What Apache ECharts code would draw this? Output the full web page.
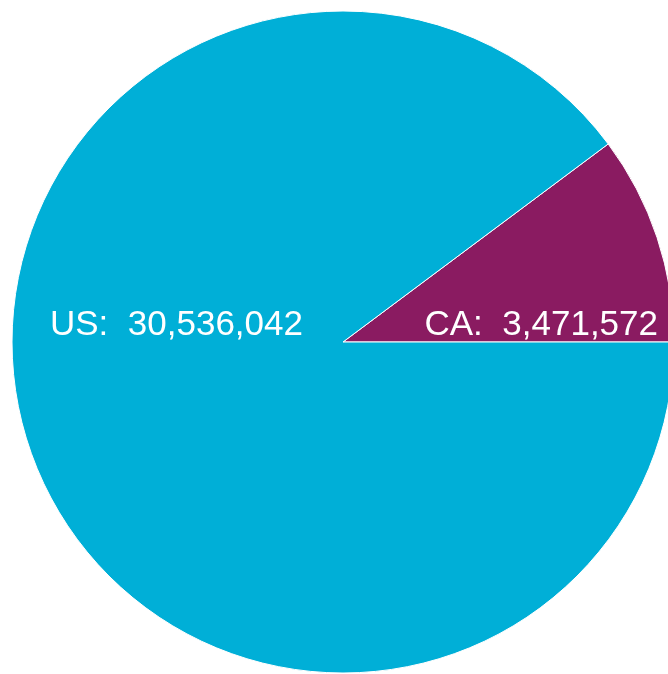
<!DOCTYPE html>
<html>
<head>
<meta charset="utf-8">
<script src="https://cdn.jsdelivr.net/npm/echarts@6/dist/echarts.min.js"></script>
<style>
  html, body { margin: 0; padding: 0; background: #fff; }
  #chart { width: 668px; height: 674px; }
</style>
</head>
<body>
<div id="chart"></div>
<script>
  var countries = ['CA', 'US'];
  var counts = [3471572, 30536042];
  var sliceColors = ['#8A1B61', '#00AFD7'];

  var total = counts[0] + counts[1];
  // CA slice sits just above the 3 o'clock line, US fills the rest
  var startAngle = counts[0] / total * 360;

  // label anchor points (text positions, not marks)
  var labelSpots = {
    CA: { x: 658, y: 325, align: 'right' },
    US: { x: 50, y: 325, align: 'left' }
  };

  function fmt(n) {
    return n.toString().replace(/\B(?=(\d{3})+(?!\d))/g, ',');
  }

  var chart = echarts.init(document.getElementById('chart'));
  chart.setOption({
    animation: false,
    series: [{
      type: 'pie',
      center: [343, 342],
      radius: 331,
      startAngle: startAngle,
      clockwise: true,
      avoidLabelOverlap: false,
      itemStyle: {
        borderColor: '#ffffff',
        borderWidth: 1
      },
      label: {
        show: true,
        position: 'inside',
        color: '#ffffff',
        fontFamily: 'Liberation Sans, Arial, sans-serif',
        fontSize: 35,
        formatter: function (p) {
          return p.name + ':  ' + fmt(p.value);
        }
      },
      labelLine: { show: false },
      labelLayout: function (p) {
        var name = countries[p.dataIndex];
        var s = labelSpots[name];
        return { x: s.x, y: s.y, align: s.align, verticalAlign: 'middle' };
      },
      data: countries.map(function (c, i) {
        return { name: c, value: counts[i], itemStyle: { color: sliceColors[i] } };
      })
    }]
  });
</script>
</body>
</html>
